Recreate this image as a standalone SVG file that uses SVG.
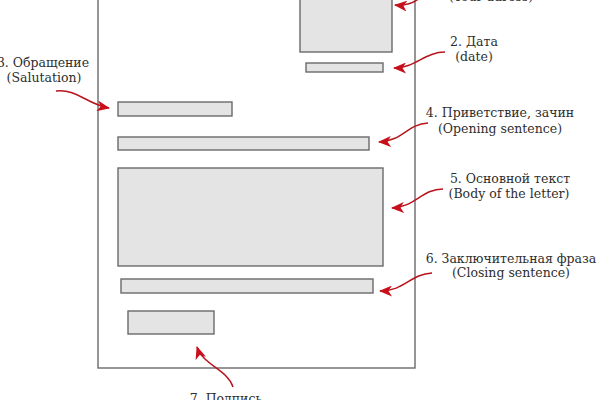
<svg xmlns="http://www.w3.org/2000/svg" width="600" height="400" viewBox="0 0 600 400">
<defs>
<style>
.box{fill:#e4e4e4;stroke:#6a6a6a;stroke-width:1.4}
.frame{fill:#fff;stroke:#6a6a6a;stroke-width:1.4}
.lbl{font-family:"DejaVu Serif","Liberation Serif",serif;font-size:12.5px;fill:#2e2e2e;text-anchor:middle}
.arr{fill:none;stroke:#b8141e;stroke-width:1.5;marker-end:url(#ah)}
</style>
<marker id="ah" viewBox="0 0 13 11" refX="12" refY="5.5" markerWidth="13" markerHeight="11" markerUnits="userSpaceOnUse" orient="auto">
<path d="M0,0 L13,5.5 L0,11 L3.5,5.5 Z" fill="#c8101c"/>
</marker>
</defs>
<rect width="600" height="400" fill="#fff"/>
<g id="page"><rect class="frame" x="98" y="-10" width="317" height="378"/></g>
<g id="address"><rect class="box" x="300" y="-10" width="92" height="62"/><text class="lbl" x="491" y="1">(Your adress)</text></g>
<g id="date"><rect class="box" x="306" y="63" width="77" height="9"/><text class="lbl" x="474" y="46">2. Дата</text><text class="lbl" x="474" y="61">(date)</text></g>
<g id="salutation"><rect class="box" x="118" y="102" width="114" height="14"/><text class="lbl" x="43" y="67">3. Обращение</text><text class="lbl" x="44" y="82">(Salutation)</text></g>
<g id="opening"><rect class="box" x="118" y="137" width="251" height="13"/><text class="lbl" x="500" y="117">4. Приветствие, зачин</text><text class="lbl" x="500" y="133">(Opening sentence)</text></g>
<g id="body"><rect class="box" x="118" y="168" width="265" height="98"/><text class="lbl" x="510" y="183">5. Основной текст</text><text class="lbl" x="509" y="198">(Body of the letter)</text></g>
<g id="closing"><rect class="box" x="121" y="279" width="252" height="14"/><text class="lbl" x="511" y="263">6. Заключительная фраза</text><text class="lbl" x="511" y="277">(Closing sentence)</text></g>
<g id="signature"><rect class="box" x="128" y="311" width="86" height="23"/><text class="lbl" x="226" y="403">7. Подпись</text></g>
<g id="connectors">
<path class="arr" d="M421,-3 C414,3 406,6 395,5"/>
<path class="arr" d="M445,52 C425,52 415,68 394,68"/>
<path class="arr" d="M56,91 C78,89 86,104 109,108"/>
<path class="arr" d="M428,123 C407,124 403,141 379,142"/>
<path class="arr" d="M443,189 C422,189 415,207 392,208"/>
<path class="arr" d="M432,273 C410,274 405,291 380,291"/>
<path class="arr" d="M233,387 C228,370 203,365 197,347"/>
</g>
</svg>
